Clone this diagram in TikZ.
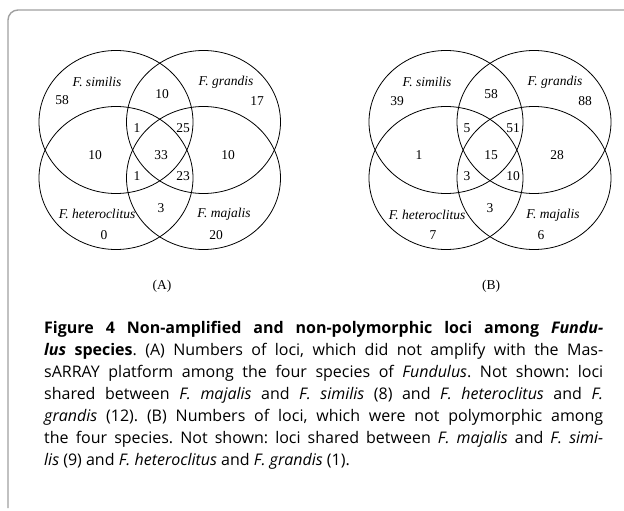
\documentclass[tikz,border=0pt]{standalone}
\usepackage{fontspec}
\setmainfont{Liberation Serif}
\newfontfamily\capfont{Open Sans}
\usetikzlibrary{shapes.geometric}

\definecolor{framegray}{RGB}{160,160,160}

\tikzset{
	ring/.style = {ellipse, draw, line width=0.8pt, minimum width=154pt, minimum height=143pt, inner sep=0pt},
	lbl/.style = {inner sep=0pt, font=\fontsize{13.5}{15}\selectfont},
	spec/.style = {lbl, font=\fontsize{13.5}{15}\selectfont\itshape}
}

\begin{document}
\begin{tikzpicture}[x=1pt, y=-1pt]
		\useasboundingbox (0,0) rectangle (624,511);
		% frame
		\draw[framegray, line width=1.4pt, rounded corners=10pt] (624,10) -| (8,508);
		
		% panel (A)
		\node[ring] (simA) at (116,122) {};
		\node[ring] (graA) at (203.5,122) {};
		\node[ring] (hetA) at (116,178) {};
		\node[ring] (majA) at (203.5,178) {};
		\node[spec] (simAname) at (97,82) {F. similis};
		\node[spec] (graAname) at (226,82) {F. grandis};
		\node[spec] (hetAname) at (97,214) {F. heteroclitus};
		\node[spec] (majAname) at (224,214) {F. majalis};
		\node[lbl] (a58) at (62,100) {58};
		\node[lbl] (a10t) at (162,94) {10};
		\node[lbl] (a17) at (257,101) {17};
		\node[lbl] (a1t) at (137,128) {1};
		\node[lbl] (a25) at (183,128) {25};
		\node[lbl] (a10l) at (95,155) {10};
		\node[lbl] (a33) at (161,155) {33};
		\node[lbl] (a10r) at (228,155) {10};
		\node[lbl] (a1b) at (137,176) {1};
		\node[lbl] (a23) at (183,176) {23};
		\node[lbl] (a3) at (161,208) {3};
		\node[lbl] (a0) at (104,235) {0};
		\node[lbl] (a20) at (216,235) {20};
		\node[lbl] (capA) at (162,286) {(A)};
		
		% panel (B)
		\node[ring] (simB) at (446,122) {};
		\node[ring] (graB) at (534,122) {};
		\node[ring] (hetB) at (446,178) {};
		\node[ring] (majB) at (534,178) {};
		\node[spec] (simBname) at (427,82) {F. similis};
		\node[spec] (graBname) at (555,82) {F. grandis};
		\node[spec] (hetBname) at (427,215) {F. heteroclitus};
		\node[spec] (majBname) at (553,215) {F. majalis};
		\node[lbl] (b39) at (397,101) {39};
		\node[lbl] (b58) at (491,94) {58};
		\node[lbl] (b88) at (585,101) {88};
		\node[lbl] (b5) at (467,128) {5};
		\node[lbl] (b51) at (513,128) {51};
		\node[lbl] (b1) at (419,155) {1};
		\node[lbl] (b15) at (491,155) {15};
		\node[lbl] (b28) at (557,155) {28};
		\node[lbl] (b3l) at (467,176) {3};
		\node[lbl] (b10) at (513,176) {10};
		\node[lbl] (b3b) at (490,208) {3};
		\node[lbl] (b7) at (433,235) {7};
		\node[lbl] (b6) at (541,235) {6};
		\node[lbl] (capB) at (491,286) {(B)};
		
		% caption
		\node[anchor=north west, inner sep=0pt, text width=559pt, align=justify,
			font=\capfont\fontsize{16}{22}\selectfont\frenchspacing] (caption) at (44,321) {%
			\textbf{Figure 4 Non-amplified and non-polymorphic loci among \textit{Fundu-}}\linebreak
			\textbf{\textit{lus} species}. (A) Numbers of loci, which did not amplify with the Mas-\linebreak
			sARRAY platform among the four species of \textit{Fundulus}. Not shown: loci\linebreak
			shared between \textit{F. majalis} and \textit{F. similis} (8) and \textit{F. heteroclitus} and \textit{F.}\linebreak
			\textit{grandis} (12). (B) Numbers of loci, which were not polymorphic among\linebreak
			the four species. Not shown: loci shared between \textit{F. majalis} and \textit{F. simi-}\linebreak
			\textit{lis} (9) and \textit{F. heteroclitus} and \textit{F. grandis} (1).};
		
\end{tikzpicture}
\end{document}
